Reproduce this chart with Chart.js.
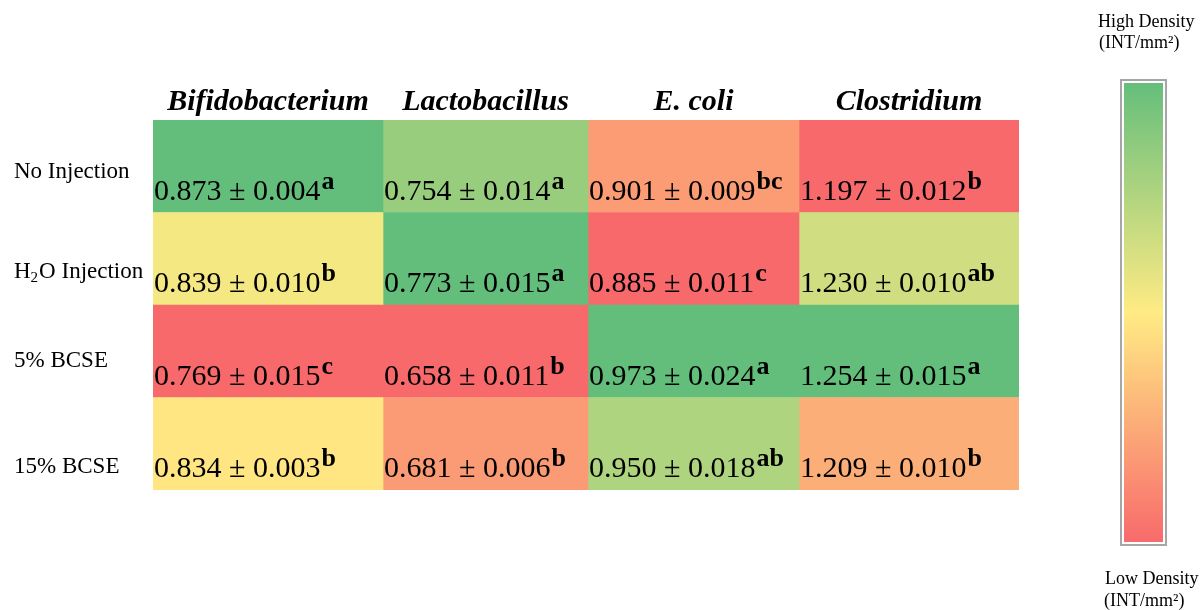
<!DOCTYPE html>
<html>
<head>
<meta charset="utf-8">
<title>Bacterial density heat map</title>
<script src="https://cdn.jsdelivr.net/npm/chart.js@4.4.1/dist/chart.umd.min.js"></script>
<style>
  html, body { margin: 0; padding: 0; background: #ffffff; }
  #wrap { width: 1204px; height: 610px; position: relative; }
</style>
</head>
<body>
<div id="wrap"><canvas id="heat" width="1204" height="610"></canvas></div>
<script>
// Treatment groups (rows) and bacteria (columns)
const groups = ['No Injection', 'H\u2082O Injection', '5% BCSE', '15% BCSE'];
const bacteria = ['Bifidobacterium', 'Lactobacillus', 'E. coli', 'Clostridium'];

// Mean density (INT/mm²) ± SD with significance letters, one set per bacterium
const bifidoMean = [0.873, 0.839, 0.769, 0.834];
const bifidoSd = [0.004, 0.010, 0.015, 0.003];
const bifidoSig = ['a', 'b', 'c', 'b'];

const lactoMean = [0.754, 0.773, 0.658, 0.681];
const lactoSd = [0.014, 0.015, 0.011, 0.006];
const lactoSig = ['a', 'a', 'b', 'b'];

const ecoliMean = [0.901, 0.885, 0.973, 0.950];
const ecoliSd = [0.009, 0.011, 0.024, 0.018];
const ecoliSig = ['bc', 'c', 'a', 'ab'];

const clostMean = [1.197, 1.230, 1.254, 1.209];
const clostSd = [0.012, 0.010, 0.015, 0.010];
const clostSig = ['b', 'ab', 'a', 'b'];

const legendHigh = ['High Density', '(INT/mm\u00B2)'];
const legendLow = ['Low Density', '(INT/mm\u00B2)'];

// ---- layout (pixels) ----
const colWidths = [230, 205, 211, 220];
const rowLabelDrop = [58, 65, 62, 75];
const SERIF = '"Liberation Serif", "Times New Roman", serif';

const means = [bifidoMean, lactoMean, ecoliMean, clostMean];
const sds = [bifidoSd, lactoSd, ecoliSd, clostSd];
const sigs = [bifidoSig, lactoSig, ecoliSig, clostSig];

// Three-colour scale: red (low) -> yellow (median) -> green (high), per column
const LOW = [248, 105, 107], MID = [255, 235, 132], HIGH = [99, 190, 123];
function mix(a, b, t) {
  return 'rgb(' + a.map((v, i) => Math.round(v + (b[i] - v) * t)).join(',') + ')';
}
function scaleColors(vals) {
  const s = vals.slice().sort((a, b) => a - b);
  const lo = s[0], hi = s[s.length - 1];
  const pos = (s.length - 1) * 0.5, k = Math.floor(pos);
  const med = s[k] + (s[Math.min(k + 1, s.length - 1)] - s[k]) * (pos - k);
  return vals.map(v => v <= med
    ? mix(LOW, MID, med === lo ? 1 : (v - lo) / (med - lo))
    : mix(MID, HIGH, hi === med ? 1 : (v - med) / (hi - med)));
}

function drawSubText(ctx, text, x, y, size) {
  // draws text where '₂' is rendered as a lowered, smaller "2"
  const parts = text.split('\u2082');
  let cx = x;
  parts.forEach((p, i) => {
    ctx.font = size + 'px ' + SERIF;
    ctx.fillText(p, cx, y);
    cx += ctx.measureText(p).width;
    if (i < parts.length - 1) {
      ctx.font = Math.round(size * 0.65) + 'px ' + SERIF;
      ctx.fillText('2', cx, y + 4);
      cx += ctx.measureText('2').width + 1;
    }
  });
}

const cellText = {
  id: 'cellText',
  afterDatasetsDraw(chart) {
    const ctx = chart.ctx;
    const area = chart.chartArea;
    ctx.save();
    ctx.fillStyle = '#000000';
    ctx.textBaseline = 'alphabetic';
    chart.data.datasets.forEach((ds, i) => {
      const meta = chart.getDatasetMeta(i);
      meta.data.forEach((el, j) => {
        const left = Math.min(el.base, el.x), right = Math.max(el.base, el.x);
        const top = el.y - el.height / 2, bottom = el.y + el.height / 2;
        const main = means[i][j].toFixed(3) + ' \u00B1 ' + sds[i][j].toFixed(3);
        ctx.textAlign = 'left';
        ctx.font = '30px ' + SERIF;
        ctx.fillText(main, left + 1, bottom - 13);
        const w = ctx.measureText(main).width;
        ctx.font = 'bold 26px ' + SERIF;
        ctx.fillText(sigs[i][j], left + 1 + w + 1, bottom - 24);
        if (j === 0) {
          ctx.textAlign = 'center';
          ctx.font = 'italic bold 30px ' + SERIF;
          ctx.fillText(ds.label, (left + right) / 2, area.top - 10);
        }
        if (i === 0) {
          ctx.textAlign = 'left';
          drawSubText(ctx, groups[j], 14, top + rowLabelDrop[j], 23);
        }
      });
    });
    ctx.restore();
  }
};

const colorBar = {
  id: 'colorBar',
  afterDraw(chart) {
    const ctx = chart.ctx;
    const x = 1121, y = 80, w = 45, h = 465;
    ctx.save();
    const g = ctx.createLinearGradient(0, y, 0, y + h);
    g.addColorStop(0, mix(HIGH, HIGH, 0));
    g.addColorStop(0.5, mix(MID, MID, 0));
    g.addColorStop(1, mix(LOW, LOW, 0));
    ctx.fillStyle = g;
    ctx.fillRect(x + 3, y + 3, w - 6, h - 6);
    ctx.strokeStyle = '#a6a6a6';
    ctx.lineWidth = 2;
    ctx.strokeRect(x, y, w, h);
    ctx.fillStyle = '#000000';
    ctx.textAlign = 'left';
    ctx.font = '18px ' + SERIF;
    ctx.fillText(legendHigh[0], 1098, 27);
    ctx.fillText(legendHigh[1], 1099, 48);
    ctx.fillText(legendLow[0], 1105, 584);
    ctx.fillText(legendLow[1], 1104, 606);
    ctx.restore();
  }
};

const totalWidth = colWidths.reduce((a, b) => a + b, 0);

new Chart(document.getElementById('heat'), {
  type: 'bar',
  data: {
    labels: groups,
    datasets: bacteria.map((name, i) => ({
      label: name,
      data: groups.map(() => colWidths[i]),
      backgroundColor: scaleColors(means[i]),
      borderWidth: 0,
      barPercentage: 1,
      categoryPercentage: 1
    }))
  },
  options: {
    indexAxis: 'y',
    responsive: false,
    animation: false,
    events: [],
    layout: { padding: { left: 153, right: 185, top: 120, bottom: 120 } },
    scales: {
      x: { type: 'linear', stacked: true, min: 0, max: totalWidth, display: false },
      y: { stacked: true, display: false }
    },
    plugins: { legend: { display: false }, tooltip: { enabled: false } }
  },
  plugins: [cellText, colorBar]
});
</script>
</body>
</html>
